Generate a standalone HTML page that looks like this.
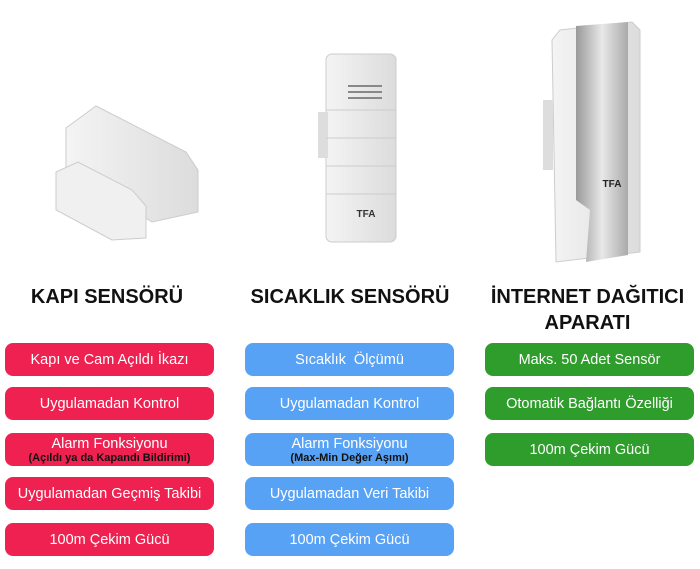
<!DOCTYPE html>
<html><head><meta charset="utf-8"><style>
body{margin:0;width:700px;height:569px;background:#fff;position:relative;overflow:hidden;font-family:"Liberation Sans","DejaVu Sans",sans-serif}
.h{position:absolute;font-weight:bold;font-size:20px;color:#111;text-align:center;line-height:26px}
.p{position:absolute;width:209px;height:33px;border-radius:8px;color:#fff;font-size:14.5px;display:flex;flex-direction:column;align-items:center;justify-content:center;line-height:16px;text-align:center}
.r{background:#ee2150;left:5px}.b{background:#58a2f5;left:245px}.g{background:#2f9d2c;left:485px}
.s{color:#111;font-weight:bold;font-size:11px;line-height:12px}
</style></head><body>
<svg width="700" height="280" style="position:absolute;left:0;top:0">
<defs><linearGradient id="w" x1="0" x2="1"><stop offset="0" stop-color="#f4f4f4"/><stop offset="1" stop-color="#dcdcdc"/></linearGradient>
<linearGradient id="m" x1="0" x2="1"><stop offset="0" stop-color="#999"/><stop offset=".5" stop-color="#e8e8e8"/><stop offset="1" stop-color="#aaa"/></linearGradient></defs>
<polygon points="66,128 96,106 186,152 198,170 198,212 152,222 66,168" fill="url(#w)" stroke="#ccc"/>
<polygon points="56,172 78,162 132,190 146,206 146,238 112,240 56,210" fill="#f0f0f0" stroke="#ccc"/>
<rect x="326" y="54" width="70" height="188" rx="6" fill="url(#w)" stroke="#ccc"/>
<rect x="318" y="112" width="10" height="46" fill="#ddd"/>
<line x1="326" y1="110" x2="396" y2="110" stroke="#ccc"/><line x1="326" y1="138" x2="396" y2="138" stroke="#ccc"/><line x1="326" y1="166" x2="396" y2="166" stroke="#ccc"/><line x1="326" y1="194" x2="396" y2="194" stroke="#ccc"/>
<line x1="348" y1="86" x2="382" y2="86" stroke="#888" stroke-width="2"/><line x1="348" y1="92" x2="382" y2="92" stroke="#888" stroke-width="2"/><line x1="348" y1="98" x2="382" y2="98" stroke="#888" stroke-width="2"/>
<text x="366" y="217" font-size="10" font-weight="bold" text-anchor="middle" fill="#333">TFA</text>
<polygon points="560,30 632,22 640,30 640,252 556,262 552,40" fill="url(#w)" stroke="#ccc"/>
<rect x="543" y="100" width="10" height="70" fill="#ddd"/>
<path d="M576,26 L628,22 L628,255 L586,262 L590,210 L576,200 Z" fill="url(#m)"/>
<text x="612" y="187" font-size="10" font-weight="bold" text-anchor="middle" fill="#222">TFA</text>
</svg>
<div class="h" style="left:0;width:214px;top:284px">KAPI SENSÖRÜ</div>
<div class="h" style="left:232px;width:236px;top:284px">SICAKLIK SENSÖRÜ</div>
<div class="h" style="left:475px;width:225px;top:284px">İNTERNET DAĞITICI<br>APARATI</div>
<div class="p r" style="top:343px">Kapı ve Cam Açıldı İkazı</div>
<div class="p r" style="top:387px">Uygulamadan Kontrol</div>
<div class="p r" style="top:433px">Alarm Fonksiyonu<span class="s">(Açıldı ya da Kapandı Bildirimi)</span></div>
<div class="p r" style="top:477px">Uygulamadan Geçmiş Takibi</div>
<div class="p r" style="top:523px">100m Çekim Gücü</div>
<div class="p b" style="top:343px">Sıcaklık&nbsp; Ölçümü</div>
<div class="p b" style="top:387px">Uygulamadan Kontrol</div>
<div class="p b" style="top:433px">Alarm Fonksiyonu<span class="s">(Max-Min Değer Aşımı)</span></div>
<div class="p b" style="top:477px">Uygulamadan Veri Takibi</div>
<div class="p b" style="top:523px">100m Çekim Gücü</div>
<div class="p g" style="top:343px">Maks. 50 Adet Sensör</div>
<div class="p g" style="top:387px">Otomatik Bağlantı Özelliği</div>
<div class="p g" style="top:433px">100m Çekim Gücü</div>
</body></html>
